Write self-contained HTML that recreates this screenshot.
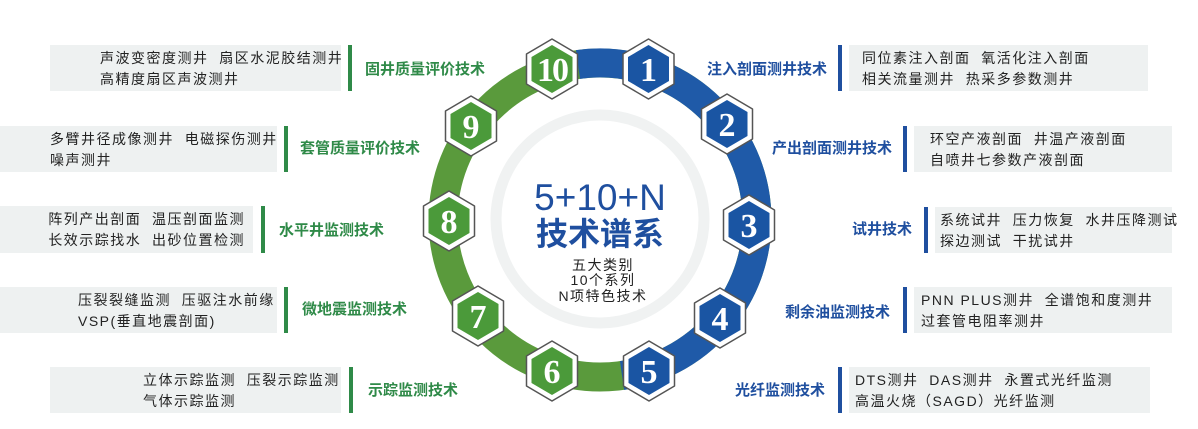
<!DOCTYPE html>
<html><head><meta charset="utf-8"><style>
html,body{margin:0;padding:0;background:#fff;}
svg{display:block;}
.t{font-family:"Liberation Sans","Noto Sans CJK SC",sans-serif;font-size:14px;fill:#222;letter-spacing:1.5px;white-space:pre;}
.lb{font-family:"Liberation Sans","Noto Sans CJK SC",sans-serif;font-size:15px;font-weight:bold;}
.b{fill:#1f4f9f;}
.g{fill:#2f8a48;}
.n{font-family:"Liberation Serif","DejaVu Serif",serif;font-size:34px;fill:#fff;text-anchor:middle;font-weight:bold;}
</style></head><body>
<svg width="1198" height="429" viewBox="0 0 1198 429" xmlns="http://www.w3.org/2000/svg" xml:space="preserve">
<rect x="50" y="45" width="291" height="46" fill="#eef1f1"/><rect x="348" y="45" width="4" height="46" fill="#2f8a48"/>
<text class="t" x="100" y="63">声波变密度测井  扇区水泥胶结测井</text><text class="t" x="100" y="84">高精度扇区声波测井</text>
<text class="lb g" x="365" y="74">固井质量评价技术</text>

<rect x="0" y="126" width="277" height="46" fill="#eef1f1"/><rect x="284" y="126" width="4" height="46" fill="#2f8a48"/>
<text class="t" x="50" y="144">多臂井径成像测井  电磁探伤测井</text><text class="t" x="50" y="165">噪声测井</text>
<text class="lb g" x="300" y="153">套管质量评价技术</text>

<rect x="0" y="206" width="253" height="47" fill="#eef1f1"/><rect x="261" y="206" width="4" height="47" fill="#2f8a48"/>
<text class="t" x="245" y="224" text-anchor="end">阵列产出剖面  温压剖面监测</text><text class="t" x="245" y="245" text-anchor="end">长效示踪找水  出砂位置检测</text>
<text class="lb g" x="279" y="235">水平井监测技术</text>

<rect x="0" y="287" width="277" height="46" fill="#eef1f1"/><rect x="284" y="287" width="4" height="46" fill="#2f8a48"/>
<text class="t" x="78" y="305">压裂裂缝监测  压驱注水前缘</text><text class="t" x="78" y="326">VSP(垂直地震剖面)</text>
<text class="lb g" x="302" y="314">微地震监测技术</text>

<rect x="50" y="367" width="291" height="46" fill="#eef1f1"/><rect x="349" y="367" width="4" height="46" fill="#2f8a48"/>
<text class="t" x="143" y="385">立体示踪监测  压裂示踪监测</text><text class="t" x="143" y="406">气体示踪监测</text>
<text class="lb g" x="368" y="395">示踪监测技术</text>

<rect x="838" y="45" width="4" height="46" fill="#1f4f9f"/><rect x="849" y="45" width="299" height="46" fill="#eef1f1"/>
<text class="t" x="862" y="63">同位素注入剖面  氧活化注入剖面</text><text class="t" x="862" y="84">相关流量测井  热采多参数测井</text>
<text class="lb b" x="707" y="74">注入剖面测井技术</text>

<rect x="903" y="126" width="4" height="46" fill="#1f4f9f"/><rect x="914" y="126" width="258" height="46" fill="#eef1f1"/>
<text class="t" x="930" y="144">环空产液剖面  井温产液剖面</text><text class="t" x="930" y="165">自喷井七参数产液剖面</text>
<text class="lb b" x="772" y="153">产出剖面测井技术</text>

<rect x="924" y="207" width="4" height="46" fill="#1f4f9f"/><rect x="935" y="207" width="237" height="46" fill="#eef1f1"/>
<text class="t" x="940" y="225" letter-spacing="0.8">系统试井  压力恢复  水井压降测试</text><text class="t" x="940" y="246">探边测试  干扰试井</text>
<text class="lb b" x="852" y="234">试井技术</text>

<rect x="903" y="287" width="4" height="46" fill="#1f4f9f"/><rect x="914" y="287" width="258" height="46" fill="#eef1f1"/>
<text class="t" x="921" y="305" letter-spacing="0.8">PNN PLUS测井  全谱饱和度测井</text><text class="t" x="921" y="326">过套管电阻率测井</text>
<text class="lb b" x="785" y="317">剩余油监测技术</text>

<rect x="838" y="367" width="4" height="46" fill="#1f4f9f"/><rect x="849" y="367" width="301" height="46" fill="#eef1f1"/>
<text class="t" x="855" y="385" letter-spacing="0.8">DTS测井  DAS测井  永置式光纤监测</text><text class="t" x="855" y="406">高温火烧（SAGD）光纤监测</text>
<text class="lb b" x="735" y="395">光纤监测技术</text>

<circle cx="600" cy="219" r="104" fill="none" stroke="#f0f2f2" stroke-width="11"/>
<circle cx="600" cy="220" r="157" fill="none" stroke="#5a9a3c" stroke-width="29"/>
<path d="M 578 64.5 A 157 157 0 0 1 622 375.5" fill="none" stroke="#1f5aa8" stroke-width="29"/>
<text x="600" y="210" text-anchor="middle" font-family="Liberation Sans,sans-serif" font-size="37" fill="#1f4f9f">5+10+N</text>
<text x="600" y="245" text-anchor="middle" font-family="Liberation Sans,Noto Sans CJK SC,sans-serif" font-size="32" font-weight="bold" fill="#1f4f9f">技术谱系</text>
<text class="t" x="603" y="270" text-anchor="middle" font-size="13">五大类别</text>
<text class="t" x="603" y="285" text-anchor="middle" font-size="13">10个系列</text>
<text class="t" x="603" y="301" text-anchor="middle" font-size="13">N项特色技术</text>

<defs>
<g id="hexo"><polygon points="0,-30 25.5,-15 25.5,15 0,30 -25.5,15 -25.5,-15" fill="#fff" stroke="#555" stroke-width="1.5" stroke-linejoin="round"/></g>
<polygon id="hexi" points="0,-24 20.5,-12 20.5,12 0,24 -20.5,12 -20.5,-12" stroke-linejoin="round"/>
</defs>
<g transform="translate(648.5,69)"><use href="#hexo"/><use href="#hexi" fill="#1a55a3"/><text class="n" y="12">1</text></g>
<g transform="translate(727,124)"><use href="#hexo"/><use href="#hexi" fill="#1a55a3"/><text class="n" y="12">2</text></g>
<g transform="translate(749,225)"><use href="#hexo"/><use href="#hexi" fill="#1a55a3"/><text class="n" y="12">3</text></g>
<g transform="translate(720,318)"><use href="#hexo"/><use href="#hexi" fill="#1a55a3"/><text class="n" y="12">4</text></g>
<g transform="translate(649,371)"><use href="#hexo"/><use href="#hexi" fill="#1a55a3"/><text class="n" y="12">5</text></g>
<g transform="translate(552,371)"><use href="#hexo"/><use href="#hexi" fill="#4b9a3a"/><text class="n" y="12">6</text></g>
<g transform="translate(478,316)"><use href="#hexo"/><use href="#hexi" fill="#4b9a3a"/><text class="n" y="12">7</text></g>
<g transform="translate(449,221)"><use href="#hexo"/><use href="#hexi" fill="#4b9a3a"/><text class="n" y="12">8</text></g>
<g transform="translate(471,126)"><use href="#hexo"/><use href="#hexi" fill="#4b9a3a"/><text class="n" y="12">9</text></g>
<g transform="translate(552,69)"><use href="#hexo"/><use href="#hexi" fill="#4b9a3a"/><text class="n" y="12" letter-spacing="-2">10</text></g>
</svg>
</body></html>
